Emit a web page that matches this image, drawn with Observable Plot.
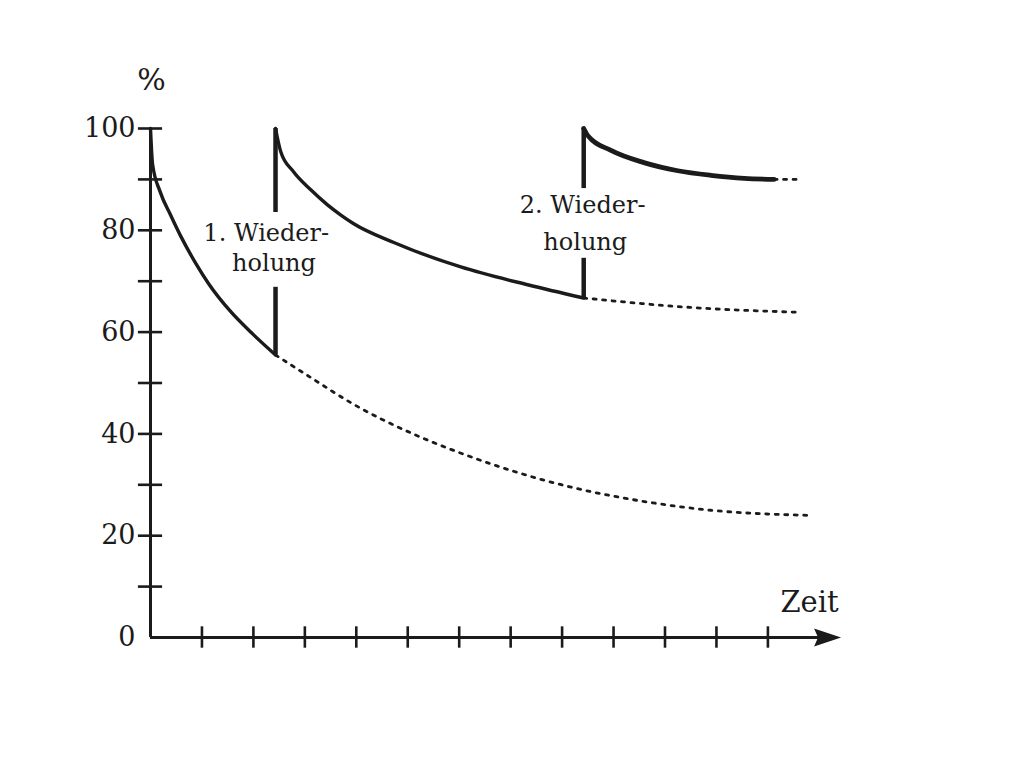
<!DOCTYPE html>
<html>
<head>
<meta charset="utf-8">
<script src="https://cdn.jsdelivr.net/npm/d3@7"></script>
<script src="https://cdn.jsdelivr.net/npm/@observablehq/plot@0.6"></script>
<style>
  html, body { margin: 0; padding: 0; background: #fff; }
  #chart svg { display: block; }
</style>
</head>
<body>
<div id="chart"></div>
<script>
// ---- data ----
// forgetting curve before 1st repetition (solid) and its continuation (dotted)
const curve1Time   = [0, 0.04, 0.19, 0.39, 0.58, 0.88, 1.13, 1.56, 2.0, 2.43];
const curve1Value  = [100, 93, 87.5, 83, 79, 73.5, 69.5, 64, 59.5, 55.5];
const curve1bTime  = [2.43, 3.11, 3.95, 5.06, 6.09, 7.14, 8.23, 9.67, 10.89, 12.78];
const curve1bValue = [55.5, 51.1, 45.8, 40.2, 36.0, 32.4, 29.4, 26.6, 25.0, 24.0];
// after 1st repetition
const curve2Time   = [2.43, 2.53, 2.78, 3.11, 3.44, 3.70, 3.95, 4.73, 6.03, 7.33, 8.42];
const curve2Value  = [100, 95.5, 91.5, 88, 85, 83, 81.3, 77.6, 72.8, 69.3, 66.7];
const curve2bTime  = [8.42, 8.62, 10.56, 12.59];
const curve2bValue = [66.7, 66.5, 64.8, 63.9];
// after 2nd repetition
const curve3Time   = [8.42, 8.50, 8.95, 9.59, 10.25, 10.89, 11.54, 12.12];
const curve3Value  = [100, 98.6, 95.7, 93.3, 91.7, 90.8, 90.2, 90.0];
const curve3bTime  = [12.12, 12.59];
const curve3bValue = [90.0, 90.0];
// repetition bars (split where the labels sit)
const barTime  = [2.43, 2.43, 8.42, 8.42];
const barFrom  = [55.5, 83.5, 66.7, 88.2];
const barTo    = [68.8, 100, 74.5, 100];
// labels
const labelText  = ["1. Wieder-", "holung", "2. Wieder-", "holung"];
const labelTime  = [2.25, 2.4, 8.4, 8.45];
const labelValue = [79.4, 73.5, 84.9, 77.6];
// axes
const yTickLabels = [0, 20, 40, 60, 80, 100];
const yTickMarks  = [10, 20, 30, 40, 50, 60, 70, 80, 90, 100];
const xTickMarks  = [1, 2, 3, 4, 5, 6, 7, 8, 9, 10, 11, 12];
const axisEnd = 13.15;
const yAxisTitle = "%";
const xAxisTitle = "Zeit";

const toRows = (ts, vs) => ts.map((t, i) => ({t, v: vs[i]}));
const bars = barTime.map((t, i) => ({t, from: barFrom[i], to: barTo[i]}));
const labels = labelText.map((s, i) => ({s, t: labelTime[i], v: labelValue[i]}));

const ink = "#1b1b1b";
const serif = "DejaVu Serif";

const arrowHead = {
  draw(ctx) {
    ctx.moveTo(14, 0);
    ctx.lineTo(-13, -9);
    ctx.lineTo(-9, 0);
    ctx.lineTo(-13, 9);
    ctx.closePath();
  }
};

const chart = Plot.plot({
  width: 1024,
  height: 768,
  marginLeft: 150,
  marginRight: 1024 - 150 - 14 * 51.45,
  marginTop: 128,
  marginBottom: 131,
  x: {domain: [0, 14], axis: null},
  y: {domain: [0, 100], axis: null},
  style: {fontFamily: serif, color: ink, background: "#fff"},
  marks: [
    // dotted continuations
    Plot.line(toRows(curve1bTime, curve1bValue), {x: "t", y: "v", stroke: ink, strokeWidth: 2.8, strokeDasharray: "3,6.5", curve: "monotone-x"}),
    Plot.line(toRows(curve2bTime, curve2bValue), {x: "t", y: "v", stroke: ink, strokeWidth: 2.8, strokeDasharray: "3,6.5", curve: "monotone-x"}),
    Plot.line(toRows(curve3bTime, curve3bValue), {x: "t", y: "v", stroke: ink, strokeWidth: 2.8, strokeDasharray: "3,6.5", curve: "monotone-x"}),
    // solid curves
    Plot.line(toRows(curve1Time, curve1Value), {x: "t", y: "v", stroke: ink, strokeWidth: 3.4, curve: "monotone-x"}),
    Plot.line(toRows(curve2Time, curve2Value), {x: "t", y: "v", stroke: ink, strokeWidth: 3.4, curve: "monotone-x"}),
    Plot.line(toRows(curve3Time, curve3Value), {x: "t", y: "v", stroke: ink, strokeWidth: 4.8, curve: "monotone-x"}),
    // repetition bars
    Plot.ruleX(bars, {x: "t", y1: "from", y2: "to", stroke: ink, strokeWidth: 4.5}),
    // axes
    Plot.ruleX([0], {y1: 0, y2: 100, stroke: ink, strokeWidth: 3}),
    Plot.ruleY([0], {x1: 0, x2: axisEnd, stroke: ink, strokeWidth: 3}),
    Plot.ruleY(yTickMarks, {y: d => d, x1: -0.235, x2: 0.235, stroke: ink, strokeWidth: 2.6}),
    Plot.ruleX(xTickMarks, {x: d => d, y1: -2.1, y2: 2.1, stroke: ink, strokeWidth: 2.6}),
    Plot.dot([axisEnd], {x: d => d, y: 0, symbol: arrowHead, fill: ink, stroke: "none"}),
    Plot.text(yTickLabels, {x: 0, y: d => d, text: d => String(d), dx: -15, textAnchor: "end", fontSize: 27, fill: ink}),
    Plot.text([yAxisTitle], {x: 0.02, y: 109.4, text: d => d, fontSize: 30, fill: ink}),
    Plot.text([xAxisTitle], {x: 12.81, y: 6.8, text: d => d, fontSize: 29, fill: ink}),
    // labels
    Plot.text(labels, {x: "t", y: "v", text: "s", fontSize: 24, fill: ink})
  ]
});
document.getElementById("chart").append(chart);
</script>
</body>
</html>
